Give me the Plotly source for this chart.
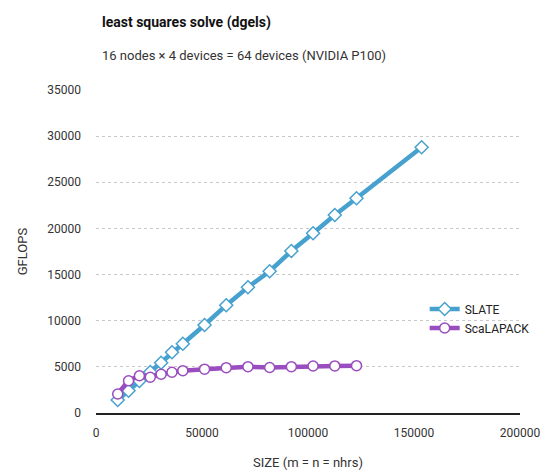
import plotly.graph_objects as go

sizes_slate = [10240, 15360, 20480, 25600, 30720, 35840, 40960, 51200, 61440, 71680,
               81920, 92160, 102400, 112640, 122880, 153600]
gflops_slate = [1410, 2420, 3470, 4440, 5450, 6580, 7510, 9540, 11680, 13630,
                15360, 17560, 19480, 21460, 23270, 28800]

sizes_scalapack = [10240, 15360, 20480, 25600, 30720, 35840, 40960, 51200, 61440, 71680,
                   81920, 92160, 102400, 112640, 122880]
gflops_scalapack = [2060, 3500, 4040, 3870, 4200, 4410, 4590, 4750, 4910, 5020,
                    4930, 5020, 5090, 5100, 5130]

x_ticks = [0, 50000, 100000, 150000, 200000]
y_ticks = [0, 5000, 10000, 15000, 20000, 25000, 30000, 35000]

FONT = "Liberation Sans Narrow, Roboto, sans-serif"
blue = "#47a1cf"
purple = "#9a4dbf"

L, R, T, B = 96, 24, 90, 62
PW, PH = 547 - L - R, 475 - T - B

fig = go.Figure()
fig.add_trace(go.Scatter(
    x=sizes_slate, y=gflops_slate, name="SLATE", mode="lines+markers",
    line=dict(color=blue, width=4.5),
    marker=dict(symbol="diamond", size=10, color="white", line=dict(color=blue, width=1.5)),
))
fig.add_trace(go.Scatter(
    x=sizes_scalapack, y=gflops_scalapack, name="ScaLAPACK", mode="lines+markers",
    line=dict(color=purple, width=4.5),
    marker=dict(symbol="circle", size=10, color="white", line=dict(color=purple, width=1.5)),
))

fig.update_layout(
    width=547, height=475,
    margin=dict(l=L, r=R, t=T, b=B),
    plot_bgcolor="white", paper_bgcolor="white",
    font=dict(family=FONT, size=12, color="#333"),
    showlegend=True,
    legend=dict(x=(427 - L) / PW, y=(413 - 318.5) / PH, xanchor="left", yanchor="middle",
                font=dict(size=12, color="#222"), bgcolor="rgba(0,0,0,0)",
                tracegroupgap=0, itemwidth=30),
    annotations=[
        dict(text="<b>least squares solve (dgels)</b>", x=(100 - L) / PW, y=(413 - 22) / PH,
             xref="paper", yref="paper", showarrow=False,
             font=dict(size=14, color="#111"), xanchor="left", yanchor="middle"),
        dict(text="16 nodes × 4 devices = 64 devices (NVIDIA P100)", x=(100 - L) / PW,
             y=(413 - 55) / PH, xref="paper", yref="paper", showarrow=False,
             font=dict(size=13, color="#333"), xanchor="left", yanchor="middle"),
    ],
)

fig.update_xaxes(
    range=[0, 200000], tickvals=x_ticks, ticktext=[str(v) for v in x_ticks],
    showgrid=False, zeroline=False, showline=True, linecolor="#222", linewidth=1.5,
    ticks="", ticklabelstandoff=8, automargin=False,
    title=dict(text="SIZE (m = n = nhrs)", standoff=19, font=dict(size=13, color="#333")),
)
fig.update_yaxes(
    range=[0, 35000], tickvals=y_ticks, ticktext=[str(v) for v in y_ticks],
    showgrid=True, gridcolor="#c8c8c8", griddash="dot", gridwidth=1,
    zeroline=False, showline=False, ticks="", ticklabelstandoff=14, automargin=False,
    title=dict(text="GFLOPS", standoff=16, font=dict(size=13, color="#333")),
)

fig.write_html("out.html", config={"displayModeBar": False},
               post_script="document.body.style.margin='0';")
